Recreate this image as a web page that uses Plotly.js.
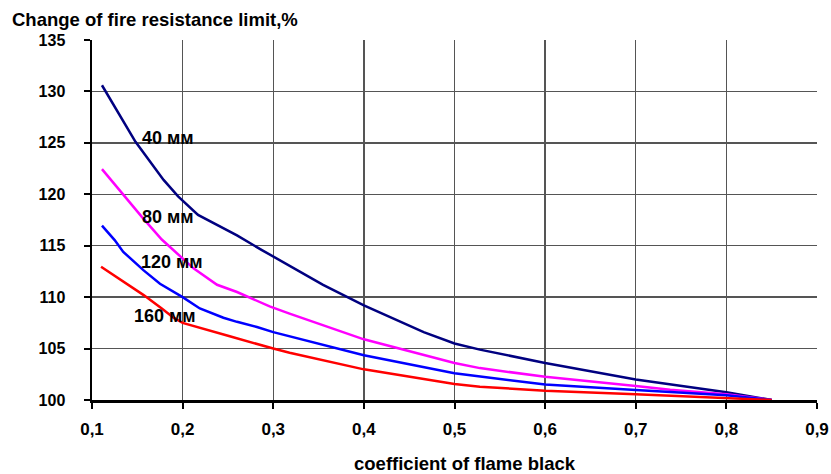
<!DOCTYPE html>
<html>
<head>
<meta charset="utf-8">
<script src="https://cdn.plot.ly/plotly-3.0.1.min.js"></script>
<style>
  html, body { margin: 0; padding: 0; background: #ffffff; }
  #chart { width: 831px; height: 474px; }
</style>
</head>
<body>
<div id="chart"></div>
<script>
// Fire resistance limit change vs. flame emissivity coefficient, by slab thickness
const seriesNames = ['40 мм', '80 мм', '120 мм', '160 мм'];
const seriesColors = ['#000080', '#FF00FF', '#0000FF', '#FF0000'];

const x40 = [0.111, 0.13, 0.148, 0.179, 0.195, 0.217, 0.26, 0.287, 0.307, 0.355, 0.4, 0.466, 0.5, 0.528, 0.6, 0.7, 0.8, 0.85];
const y40 = [130.6, 127.8, 125.1, 121.4, 119.8, 118.0, 116.0, 114.6, 113.6, 111.2, 109.2, 106.6, 105.5, 104.9, 103.6, 102.0, 100.75, 100];

const x80 = [0.111, 0.135, 0.155, 0.177, 0.188, 0.212, 0.238, 0.26, 0.296, 0.318, 0.4, 0.5, 0.528, 0.6, 0.7, 0.738, 0.8, 0.85];
const y80 = [122.45, 119.9, 117.8, 115.6, 114.7, 112.8, 111.2, 110.5, 109.1, 108.4, 105.9, 103.6, 103.1, 102.25, 101.36, 101.0, 100.55, 100];

const x120 = [0.111, 0.125, 0.1345, 0.157, 0.175, 0.2, 0.219, 0.245, 0.26, 0.282, 0.3, 0.318, 0.4, 0.5, 0.528, 0.6, 0.7, 0.738, 0.8, 0.85];
const y120 = [116.95, 115.55, 114.4, 112.6, 111.3, 110.0, 108.9, 108.0, 107.6, 107.1, 106.6, 106.2, 104.35, 102.6, 102.3, 101.5, 100.97, 100.8, 100.45, 100];

const x160 = [0.11, 0.1345, 0.157, 0.177, 0.19, 0.2, 0.219, 0.252, 0.3, 0.318, 0.4, 0.5, 0.528, 0.6, 0.7, 0.738, 0.8, 0.85];
const y160 = [112.96, 111.5, 110.2, 108.9, 108.0, 107.5, 107.0, 106.2, 105.0, 104.6, 102.98, 101.55, 101.3, 100.9, 100.55, 100.4, 100.2, 100];

// Curve labels: left edge x and vertical centre y of each label
const labelX = [0.153, 0.153, 0.152, 0.144];
const labelY = [125.5, 117.8, 113.4, 108.2];

const xTickVals = [0.1, 0.2, 0.3, 0.4, 0.5, 0.6, 0.7, 0.8, 0.9];
const xTickText = ['0,1', '0,2', '0,3', '0,4', '0,5', '0,6', '0,7', '0,8', '0,9'];
const yTickVals = [100, 105, 110, 115, 120, 125, 130, 135];
const yTickText = ['100', '105', '110', '115', '120', '125', '130', '135'];

const yTitle = 'Change of fire resistance limit,%';
const xTitle = 'coefficient of flame black';

const FONT = '"Liberation Sans", Arial, sans-serif';
const bold = s => '<b>' + s + '</b>';

const xs = [x40, x80, x120, x160];
const ys = [y40, y80, y120, y160];

const traces = seriesNames.map((name, i) => ({
  type: 'scatter',
  mode: 'lines',
  name: name,
  x: xs[i],
  y: ys[i],
  line: { color: seriesColors[i], width: 2.5 },
  hoverinfo: 'x+y+name'
}));

const annotations = seriesNames.map((name, i) => ({
  x: labelX[i], y: labelY[i], xref: 'x', yref: 'y',
  text: bold(name),
  showarrow: false, xanchor: 'left', yanchor: 'middle',
  font: { family: FONT, size: 18, color: '#000000' }
}));

annotations.push({
  x: -0.1131, y: 1.058, xref: 'paper', yref: 'paper',
  text: bold(yTitle), showarrow: false,
  xanchor: 'left', yanchor: 'middle',
  font: { family: FONT, size: 18.5, color: '#000000' }
});
annotations.push({
  x: 0.514, y: -0.175, xref: 'paper', yref: 'paper',
  text: bold(xTitle), showarrow: false,
  xanchor: 'center', yanchor: 'middle',
  font: { family: FONT, size: 18.5, color: '#000000' }
});

const layout = {
  width: 831, height: 474,
  margin: { l: 92, r: 14, t: 40, b: 74 },
  paper_bgcolor: '#ffffff', plot_bgcolor: '#ffffff',
  showlegend: false,
  font: { family: FONT, size: 16, color: '#000000' },
  xaxis: {
    range: [0.1, 0.9], tickvals: xTickVals, ticktext: xTickText.map(bold),
    showgrid: true, gridcolor: '#555555', gridwidth: 1.4,
    showline: true, linecolor: '#000000', linewidth: 2.5,
    ticks: 'outside', ticklen: 6, tickwidth: 2, tickcolor: '#000000',
    ticklabelstandoff: 6,
    tickfont: { family: FONT, size: 17, color: '#000000' },
    zeroline: false, fixedrange: true
  },
  yaxis: {
    range: [100, 135], tickvals: yTickVals, ticktext: yTickText.map(bold),
    showgrid: true, gridcolor: '#555555', gridwidth: 1.4,
    showline: true, linecolor: '#000000', linewidth: 2.5,
    ticks: 'outside', ticklen: 6, tickwidth: 2, tickcolor: '#000000',
    ticklabelstandoff: 15,
    tickfont: { family: FONT, size: 16, color: '#000000' },
    zeroline: false, fixedrange: true
  },
  annotations: annotations
};

Plotly.newPlot('chart', traces, layout, { displayModeBar: false, staticPlot: true });
</script>
</body>
</html>
